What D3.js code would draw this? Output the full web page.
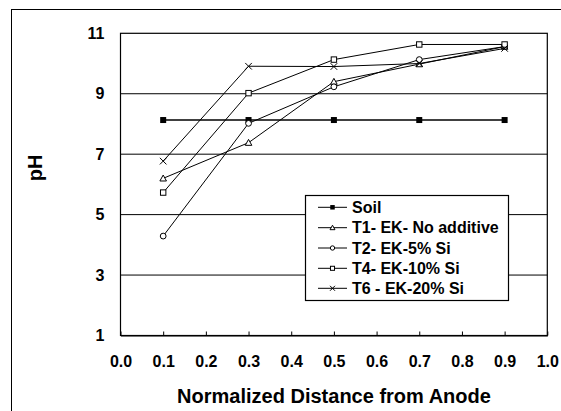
<!DOCTYPE html>
<html><head><meta charset="utf-8">
<script src="https://cdn.jsdelivr.net/npm/d3@7"></script>
<style>html,body{margin:0;padding:0;background:#fff;}svg{display:block;font-family:"Liberation Sans",Arial,Helvetica,sans-serif;font-weight:bold;}</style>
</head><body>
<svg id="c" width="561" height="411"></svg>
<script>
const distances = [0.1, 0.3, 0.5, 0.7, 0.9];
const soil = [8.13, 8.13, 8.13, 8.13, 8.13];
const t1 = [6.2, 7.38, 9.4, 9.98, 10.56];
const t2 = [4.29, 8.02, 9.23, 10.13, 10.56];
const t4 = [5.73, 9.02, 10.13, 10.63, 10.63];
const t6 = [6.77, 9.91, 9.9, 10.0, 10.5];
const seriesNames = ["Soil", "T1- EK- No additive", "T2- EK-5% Si", "T4- EK-10% Si", "T6 - EK-20% Si"];
const seriesMarkers = ["filledSquare", "triangle", "circle", "square", "cross"];
const xTicks = [0.0, 0.1, 0.2, 0.3, 0.4, 0.5, 0.6, 0.7, 0.8, 0.9, 1.0];
const yTicks = [1, 3, 5, 7, 9, 11];

const svg = d3.select("#c");
const L = 120.5, R = 547.3, T = 33.3, B = 335.5;
const x = d3.scaleLinear().domain([0, 1]).range([L, R]);
const y = d3.scaleLinear().domain([1, 11]).range([B, T]);

// outer frame (only left/top visible)
svg.append("rect").attr("x", 11.5).attr("y", 9.5).attr("width", 600).attr("height", 500)
  .attr("fill", "none").attr("stroke", "#000").attr("stroke-width", 1);

// gridlines
svg.append("g").selectAll("line").data(yTicks.filter(v => v > 1 && v < 11)).join("line")
  .attr("x1", L).attr("x2", R).attr("y1", d => y(d)).attr("y2", d => y(d))
  .attr("stroke", "#000").attr("stroke-width", 1);

// plot box
svg.append("rect").attr("x", L).attr("y", T).attr("width", R - L).attr("height", B - T)
  .attr("fill", "none").attr("stroke", "#000").attr("stroke-width", 1.2);

// x axis ticks inward
const xAxis = d3.axisBottom(x).tickValues(xTicks).tickSizeInner(-4).tickSizeOuter(0).tickPadding(20)
  .tickFormat(d3.format(".1f"));
const gx = svg.append("g").attr("transform", `translate(0,${B})`).call(xAxis);
gx.select(".domain").attr("stroke", "#000").attr("stroke-width", 1.2);
gx.selectAll(".tick line").attr("stroke", "#000");
gx.selectAll("text").attr("font-size", 16).attr("font-weight", "bold").attr("fill", "#000")
  .attr("font-family", "Liberation Sans, Arial, sans-serif");

// y axis labels
const yAxis = d3.axisLeft(y).tickValues(yTicks).tickSize(0).tickPadding(16).tickFormat(d3.format("d"));
const gy = svg.append("g").attr("transform", `translate(${L},0)`).call(yAxis);
gy.select(".domain").remove();
gy.selectAll("text").attr("font-size", 16).attr("font-weight", "bold").attr("fill", "#000")
  .attr("font-family", "Liberation Sans, Arial, sans-serif");

// titles
svg.append("text").attr("x", 334).attr("y", 403).attr("text-anchor", "middle")
  .attr("font-size", 20).text("Normalized Distance from Anode");
svg.append("text").attr("transform", "translate(42,168) rotate(-90)").attr("text-anchor", "middle")
  .attr("font-size", 20).text("pH");

function marker(g, type, cx, cy, scale) {
  const s = scale || 1;
  if (type === "filledSquare") {
    g.append("rect").attr("x", cx - 3 * s).attr("y", cy - 3 * s).attr("width", 6 * s).attr("height", 6 * s).attr("fill", "#000");
  } else if (type === "square") {
    g.append("rect").attr("x", cx - 2.7 * s).attr("y", cy - 2.7 * s).attr("width", 5.4 * s).attr("height", 5.4 * s)
      .attr("fill", "#fff").attr("stroke", "#000").attr("stroke-width", 1);
  } else if (type === "circle") {
    g.append("circle").attr("cx", cx).attr("cy", cy).attr("r", 2.9 * s).attr("fill", "#fff").attr("stroke", "#000").attr("stroke-width", 1);
  } else if (type === "triangle") {
    const h = 3.3 * s;
    g.append("path").attr("d", `M${cx},${cy - h}L${cx + h},${cy + h * 0.8}L${cx - h},${cy + h * 0.8}Z`)
      .attr("fill", "#fff").attr("stroke", "#000").attr("stroke-width", 1);
  } else if (type === "cross") {
    const h = 3.3 * s;
    g.append("path").attr("d", `M${cx - h},${cy - h}L${cx + h},${cy + h}M${cx - h},${cy + h}L${cx + h},${cy - h}`)
      .attr("stroke", "#000").attr("stroke-width", 1).attr("fill", "none");
  }
}

const allSeries = [soil, t1, t2, t4, t6];
const line = d3.line().x((d, i) => x(distances[i])).y(d => y(d));
allSeries.forEach((vals, k) => {
  const g = svg.append("g");
  g.append("path").attr("d", line(vals)).attr("fill", "none").attr("stroke", "#000")
    .attr("stroke-width", k === 0 ? 1.5 : 1);
  vals.forEach((v, i) => marker(g, seriesMarkers[k], x(distances[i]), y(v)));
});

// legend
const lg = svg.append("g");
lg.append("rect").attr("x", 305.5).attr("y", 195.5).attr("width", 203).attr("height", 105)
  .attr("fill", "#fff").attr("stroke", "#000").attr("stroke-width", 1.2);
const rowY = [207.3, 227.7, 248, 268.3, 288.3];
seriesNames.forEach((name, k) => {
  const cy = rowY[k];
  lg.append("line").attr("x1", 318).attr("x2", 347).attr("y1", cy).attr("y2", cy).attr("stroke", "#000").attr("stroke-width", 1);
  marker(lg, seriesMarkers[k], 332.5, cy, 0.75);
  lg.append("text").attr("x", 352).attr("y", cy).attr("dy", "0.36em").attr("font-size", 16).text(name);
});
</script>
</body></html>
